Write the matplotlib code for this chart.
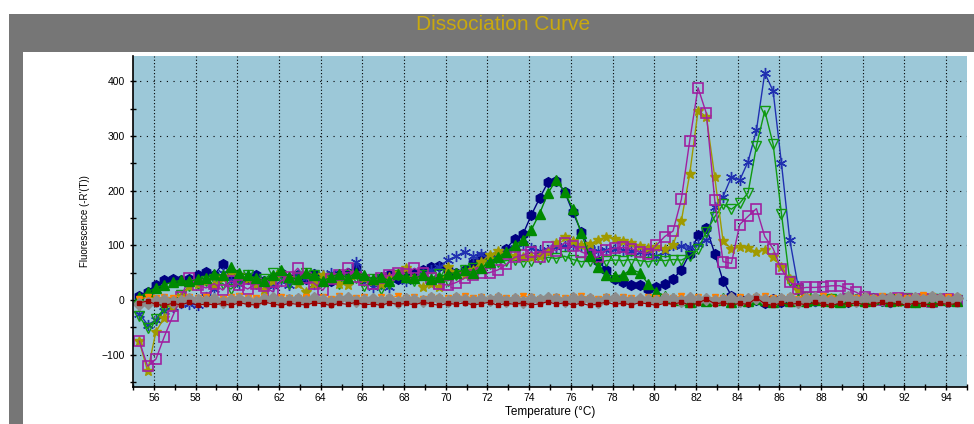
import matplotlib
matplotlib.use("Agg")
import matplotlib.pyplot as plt
from matplotlib.patches import Rectangle
from matplotlib.ticker import MultipleLocator

plt.rcParams['font.family'] = ['Liberation Sans', 'DejaVu Sans']

# melt temperatures, degC
temps = [55.3, 55.7, 56.1, 56.5, 56.9, 57.3, 57.7, 58.1, 58.5, 58.9,
         59.3, 59.7, 60.1, 60.5, 60.9, 61.3, 61.7, 62.1, 62.5, 62.9,
         63.3, 63.7, 64.1, 64.5, 64.9, 65.3, 65.7, 66.1, 66.5, 66.9,
         67.3, 67.7, 68.1, 68.5, 68.9, 69.3, 69.7, 70.1, 70.5, 70.9,
         71.3, 71.7, 72.1, 72.5, 72.9, 73.3, 73.7, 74.1, 74.5, 74.9,
         75.3, 75.7, 76.1, 76.5, 76.9, 77.3, 77.7, 78.1, 78.5, 78.9,
         79.3, 79.7, 80.1, 80.5, 80.9, 81.3, 81.7, 82.1, 82.5, 82.9,
         83.3, 83.7, 84.1, 84.5, 84.9, 85.3, 85.7, 86.1, 86.5, 86.9,
         87.3, 87.7, 88.1, 88.5, 88.9, 89.3, 89.7, 90.1, 90.5, 90.9,
         91.3, 91.7, 92.1, 92.5, 92.9, 93.3, 93.7, 94.1, 94.5]

navy_dots = [8, 15, 28, 36, 38, 36, 38, 45, 52, 46,
             66, 48, 40, 38, 45, 35, 42, 50, 40, 45,
             38, 48, 40, 35, 45, 50, 58, 40, 35, 40,
             45, 38, 45, 50, 55, 60, 62, 55, 50, 55,
             68, 78, 78, 82, 94, 111, 120, 155, 186, 215,
             218, 198, 160, 125, 92, 72, 55, 38, 33, 28,
             28, 20, 24, 30, 38, 55, 85, 118, 132, 85,
             35, 8, 2, -3, 0, -5, 2, -4, 0, -2,
             3, -2, 0, -4, 2, -3, 1, -2, 3, -1,
             -4, 2, 0, -3, 2, -2, 1, -3, -1]

green_up = [5, 15, 22, 28, 33, 36, 34, 38, 40, 48,
            45, 60, 50, 45, 40, 35, 45, 55, 42, 38,
            50, 45, 35, 42, 48, 40, 50, 45, 38, 42,
            35, 48, 42, 40, 45, 38, 42, 48, 50, 55,
            50, 58, 70, 78, 88, 100, 110, 128, 158, 195,
            220, 198, 166, 122, 80, 60, 45, 44, 46, 56,
            50, 30, 15, 8, 3, 0, -4, 2, -2, 0,
            3, -3, 1, -2, 2, 0, -3, 1, -1, 2,
            -2, 0, 3, -1, -3, 2, 0, -2, 1, 3,
            -1, 0, 2, -3, 1, -2, 2, 0, -1]

olive_star = [-75, -130, -58, -32, -12, 8, 25, 30, 35, 28,
              40, 52, 45, 38, 30, 18, 35, 50, 40, 30,
              15, 30, 45, 38, 30, 27, 45, 40, 35, 30,
              42, 50, 58, 40, 23, 30, 24, 60, 50, 45,
              55, 70, 82, 90, 85, 80, 78, 78, 80, 88,
              105, 115, 108, 100, 102, 110, 115, 112, 108, 104,
              99, 95, 96, 94, 100, 145, 230, 346, 335, 225,
              108, 94, 97, 95, 88, 92, 78, 60, 38, 18,
              5, 2, -2, 3, 0, -3, 2, 4, -1, 2,
              0, -3, 3, 1, -2, 2, 4, -1, 2]

magenta_sq = [-75, -121, -108, -67, -30, 5, 41, 28, 22, 30,
              18, 35, 28, 20, 30, 25, 15, 35, 42, 58,
              40, 30, 18, 38, 45, 58, 42, 37, 30, 40,
              45, 50, 48, 58, 50, 40, 30, 27, 32, 40,
              46, 49, 50, 55, 65, 78, 82, 88, 79, 96,
              90, 105, 98, 88, 82, 78, 91, 95, 96, 94,
              88, 85, 100, 116, 126, 184, 291, 388, 341, 183,
              70, 67, 138, 153, 167, 116, 94, 56, 33, 21,
              23, 23, 24, 26, 26, 20, 14, 5, 2, 0,
              -2, 3, 1, -1, 2, -3, 0, 2, -2]

blue_x = [-25, -45, -37, -20, -12, -5, -8, -9, 5, 20,
          49, 35, 30, 45, 38, 30, 25, 35, 28, 45,
          40, 30, 45, 50, 40, 35, 70, 40, 24, 30,
          24, 45, 35, 40, 48, 55, 60, 73, 80, 88,
          80, 85, 75, 80, 90, 95, 103, 95, 90, 92,
          96, 98, 100, 98, 94, 90, 92, 94, 92, 90,
          88, 86, 80, 88, 100, 98, 96, 102, 110, 170,
          189, 225, 219, 253, 310, 415, 382, 250, 110, 25,
          5, -2, 2, -3, 0, 3, -2, 1, -1, 2,
          -3, 0, 2, -1, 1, -2, 3, 0, -2]

green_down = [-30, -52, -35, -15, -5, 10, 25, 30, 35, 38,
              30, 20, 35, 45, 30, 38, 50, 40, 30, 42,
              50, 45, 35, 40, 30, 45, 40, 25, 38, 20,
              30, 45, 40, 35, 45, 40, 48, 35, 45, 55,
              58, 62, 65, 70, 72, 73, 70, 72, 75, 78,
              76, 80, 74, 70, 72, 67, 72, 73, 72, 74,
              72, 70, 73, 72, 74, 73, 80, 93, 125, 152,
              175, 166, 177, 196, 281, 346, 285, 158, 35, 18,
              5, 0, -3, 2, -1, 3, 0, -2, 2, -1,
              1, -2, 3, 0, -2, 1, 2, -1, 0]

# no-template / negative wells, flat around zero
orange_tri = [2, 5, 3, 6, 4, 2, 5, 3, 6, 4,
              2, 5, 7, 3, 4, 6, 2, 5, 3, 4,
              6, 3, 5, 2, 8, 4, 3, 6, 2, 5,
              4, 7, 3, 5, 2, 6, 4, 3, 5, 8,
              3, 5, 2, 6, 4, 3, 7, 5, 2, 4,
              6, 3, 5, 8, 4, 2, 5, 3, 6, 4,
              2, 6, 3, 5, 4, 7, 3, 5, 2, 6,
              4, 3, 6, 2, 5, 8, 3, 4, 6, 2,
              5, 3, 7, 4, 2, 6, 3, 5, 4, 8,
              3, 6, 4, 5, 10, 7, 4, 6, 5]

darkred_sq = [-5, -2, -8, -10, -6, -9, -4, -10, -7, -9,
              -6, -10, -5, -8, -9, -4, -7, -10, -6, -8,
              -9, -5, -7, -10, -6, -8, -4, -9, -7, -10,
              -5, -8, -6, -9, -4, -7, -10, -6, -8, -5,
              -9, -7, -4, -10, -6, -8, -5, -9, -7, -3,
              -8, -5, -9, -6, -10, -7, -4, -8, -6, -9,
              -5, -7, -10, -6, -8, -4, -9, -6, 2, -7,
              -5, -9, -6, -8, 4, -7, -10, -5, -8, -6,
              -9, -4, -7, -10, -6, -8, -5, -9, -7, -4,
              -8, -6, -10, -5, -7, -9, -6, -8, -7]

gray_dia = [-8, -5, -2, 0, -3, -1, 2, 0, -2, 1,
            -3, 0, 2, -1, -4, 1, 3, -2, 0, 2,
            -1, 3, 0, -3, 1, 4, -2, 0, 2, -1,
            1, -3, 2, 0, -2, 3, 1, -1, 4, 0,
            -2, 2, 0, 3, -1, 1, -3, 2, 0, 4,
            1, -2, 3, 0, 2, -3, 1, 4, 0, -1,
            2, 0, -2, 3, 1, -1, 4, 0, 2, -2,
            0, 3, -1, 2, 4, 0, -2, 1, 3, -3,
            1, 4, 0, -2, 2, 5, -1, 3, 0, 2,
            4, 1, -2, 3, 0, 5, 2, -1, 3]

fig = plt.figure(figsize=(9.74, 4.24), dpi=100)
W, H = 974.0, 424.0

# window frame: grey title bar + white panel (behind the axes)
fig.patches.append(Rectangle((9 / W, 0), 965 / W, 410 / H, transform=fig.transFigure,
                             facecolor='#767676', edgecolor='none', zorder=-5))
fig.patches.append(Rectangle((23 / W, 0), 951 / W, 372 / H, transform=fig.transFigure,
                             facecolor='white', edgecolor='none', zorder=-4))
fig.text(503 / W, 1 - 25 / H, 'Dissociation Curve', color='#c9a90e', fontsize=15,
         ha='center', va='center')

ax = fig.add_axes([133 / W, 37 / H, 834 / W, 331 / H])
ax.set_facecolor('#9cc8d8')

lw = 1.0
ax.plot(temps, navy_dots, color='#000080', marker='h', ms=7, lw=lw)
ax.plot(temps, blue_x, color='#2030b0', marker=(6, 2, 0), ms=8, mew=1.0, lw=lw)
ax.plot(temps, green_down, color='#109a10', marker='v', ms=7, mfc='none', mew=1.0, lw=lw)
ax.plot(temps, olive_star, color='#a09a00', marker='*', ms=7.5, lw=lw)
ax.plot(temps, magenta_sq, color='#a020a0', marker='s', ms=6.5, mfc='none', mew=1.2, lw=lw)
ax.plot(temps, green_up, color='#008a00', marker='^', ms=7, lw=lw)
# baseline wells: orange underneath, grey band over it, dark red on top
ax.plot(temps, orange_tri, color='#ff8000', marker='v', ms=5, lw=0.8)
ax.plot(temps, gray_dia, color='#8c8c8c', marker='D', ms=6.5, lw=4)
ax.plot(temps, darkred_sq, color='#990000', marker='s', ms=3.5, lw=0.8)

ax.set_xlim(55, 95)
ax.set_ylim(-159, 446)
ax.xaxis.set_major_locator(MultipleLocator(2))
ax.xaxis.set_minor_locator(MultipleLocator(1))
ax.yaxis.set_major_locator(MultipleLocator(100))
ax.yaxis.set_minor_locator(MultipleLocator(50))
ax.tick_params(which='both', direction='inout', length=5, width=1, labelsize=7.5)
ax.tick_params(axis='x', pad=2)

for side in ['top', 'right']:
    ax.spines[side].set_visible(False)
ax.spines['left'].set_linewidth(1.2)
ax.spines['bottom'].set_linewidth(1.2)

ax.xaxis.grid(True, which='major', color='black', lw=0.8, linestyle=(0, (1, 2)))
ax.yaxis.grid(True, which='major', color='black', lw=0.8, linestyle=(0, (1, 5)))
ax.set_axisbelow(True)

ax.set_xlabel('Temperature (\u00b0C)', fontsize=8.5, labelpad=2)
ax.set_ylabel("Fluorescence (-R'(T))", fontsize=7, labelpad=8)

fig.savefig('out.png', dpi=100)
